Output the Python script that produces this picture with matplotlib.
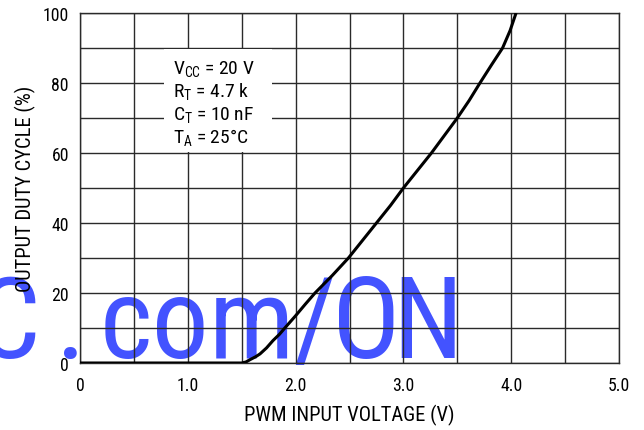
import matplotlib
matplotlib.use("Agg")
import matplotlib.pyplot as plt
from matplotlib import font_manager
from matplotlib.font_manager import FontProperties
from matplotlib.textpath import TextPath
from matplotlib.patches import Rectangle

# ---- data ----
pwm_voltage = [0.0, 1.50, 1.54, 1.58, 1.63, 1.67, 1.73, 1.79, 1.85, 1.90, 2.00, 2.09, 2.18,
               2.34, 2.49, 2.62, 2.75, 2.88, 3.00, 3.13, 3.26, 3.38, 3.50, 3.61, 3.71,
               3.82, 3.92, 3.99, 4.045]
duty_cycle  = [0.0, 0.0, 0.3, 1.0, 1.8, 2.6, 4.3, 6.4, 8.2, 10.0, 13.5, 16.8, 20.0,
               25.0, 30.0, 35.0, 40.0, 45.0, 50.0, 55.0, 60.0, 65.0, 70.0, 75.0, 80.0,
               85.3, 90.0, 95.0, 100.0]

x_ticks = [0, 1.0, 2.0, 3.0, 4.0, 5.0]
x_tick_labels = ["0", "1.0", "2.0", "3.0", "4.0", "5.0"]
y_ticks = [0, 20, 40, 60, 80, 100]
y_tick_labels = ["0", "20", "40", "60", "80", "100"]

x_label = "PWM INPUT VOLTAGE (V)"
y_label = "OUTPUT DUTY CYCLE (%)"
conditions = [r"V$_{\mathrm{CC}}$ = 20 V", r"R$_{\mathrm{T}}$ = 4.7 k",
              r"C$_{\mathrm{T}}$ = 10 nF", r"T$_{\mathrm{A}}$ = 25°C"]
watermark_head = ["C", "."]
watermark_tail = ["com", "/", "O", "N"]

# ---- fonts ----
entries = font_manager.fontManager.ttflist
names = {f.name for f in entries}


def pick(cands):
    for c in cands:
        if c in names:
            return c
    return None


main_font = pick(["Liberation Sans Narrow", "Arial Narrow", "Roboto Condensed",
                  "Archivo Narrow", "PT Sans Narrow", "Pragati Narrow"]) or "Liberation Sans"
plt.rcParams["font.family"] = [main_font, "DejaVu Sans"]
plt.rcParams["mathtext.fontset"] = "custom"
plt.rcParams["mathtext.rm"] = main_font
plt.rcParams["mathtext.it"] = main_font
plt.rcParams["mathtext.bf"] = main_font

wm_font = pick(["Roboto Condensed", "Archivo Narrow", "Liberation Sans Narrow",
                "PT Sans Narrow", "Liberation Sans"]) or "DejaVu Sans"

W, H = 644, 431
fig = plt.figure(figsize=(W / 100, H / 100), dpi=100, facecolor="white")
ax = fig.add_axes([80 / W, 1 - 364 / H, (619 - 80) / W, (364 - 14) / H])
ax.set_facecolor("none")

ax.set_xlim(0, 5)
ax.set_ylim(0, 100)
ax.set_xticks([i * 0.5 for i in range(11)], minor=True)
ax.set_yticks([i * 10 for i in range(11)], minor=True)
ax.set_xticks(x_ticks)
ax.set_xticklabels(x_tick_labels)
ax.set_yticks(y_ticks)
ax.set_yticklabels(y_tick_labels)
ax.tick_params(which="both", length=0)
ax.tick_params(axis="x", pad=9.5, labelsize=12.8)
ax.tick_params(axis="y", pad=8, labelsize=12.8)
ax.set_axisbelow(True)
ax.grid(which="both", color="#2a2a2a", linewidth=1.0)
for s in ax.spines.values():
    s.set_color("#2a2a2a")
    s.set_linewidth(1.0)

ax.plot(pwm_voltage, duty_cycle, color="black", linewidth=2.2, zorder=3,
        solid_capstyle="butt", solid_joinstyle="round")

# white box behind the conditions
ax.add_patch(Rectangle((0.78, 60.3), 1.0, 29.4, facecolor="white",
                       edgecolor="none", zorder=2))
base_y = [82.9, 76.3, 69.7, 63.1]
for txt, yy in zip(conditions, base_y):
    ax.text(0.863, yy, txt, fontsize=14, va="baseline", ha="left", zorder=4)

ax.set_xlabel(x_label, fontsize=14.8)
ax.set_ylabel(y_label, fontsize=14.8)
ax.xaxis.set_label_coords(0.5, (364 - 415) / 350)
ax.xaxis.label.set_va("center")
ax.yaxis.set_label_coords((25 - 80) / 539, 0.5)
ax.yaxis.label.set_va("center")

# ---- watermark ----
fp = FontProperties(family=wm_font)
cap = TextPath((0, 0), "N", size=100, prop=fp).get_extents()
baseline = 358
span_left, span_right = 105, 454          # ink extent of "com/ON" in the reference
cap_px = 89
while True:
    size_px = 100 * cap_px / cap.height
    exts = [TextPath((0, 0), p, size=size_px, prop=fp).get_extents() for p in watermark_tail]
    total = sum(e.x1 - e.x0 for e in exts)
    gap = (span_right - span_left - total) / (len(exts) - 1)
    if gap >= 7 or cap_px <= 70:
        break
    cap_px -= 1
size_pt = size_px * 72 / 100

# "C" (clipped at the left edge) and "."
ext_c = TextPath((0, 0), "C", size=size_px, prop=fp).get_extents()
ext_d = TextPath((0, 0), ".", size=size_px, prop=fp).get_extents()
head_left = [36 - ext_c.x1, 70 - (ext_d.x0 + ext_d.x1) / 2]
for part, left in zip(watermark_head, head_left):
    fig.text(left / W, 1 - baseline / H, part, ha="left", va="baseline",
             fontsize=size_pt, family=wm_font, color="#4353FF", zorder=-1)

cursor = span_left
for part, e in zip(watermark_tail, exts):
    left = cursor - e.x0
    fig.text(left / W, 1 - baseline / H, part, ha="left", va="baseline",
             fontsize=size_pt, family=wm_font, color="#4353FF", zorder=-1)
    cursor += (e.x1 - e.x0) + gap

fig.savefig("out.png", dpi=100, facecolor="white")
